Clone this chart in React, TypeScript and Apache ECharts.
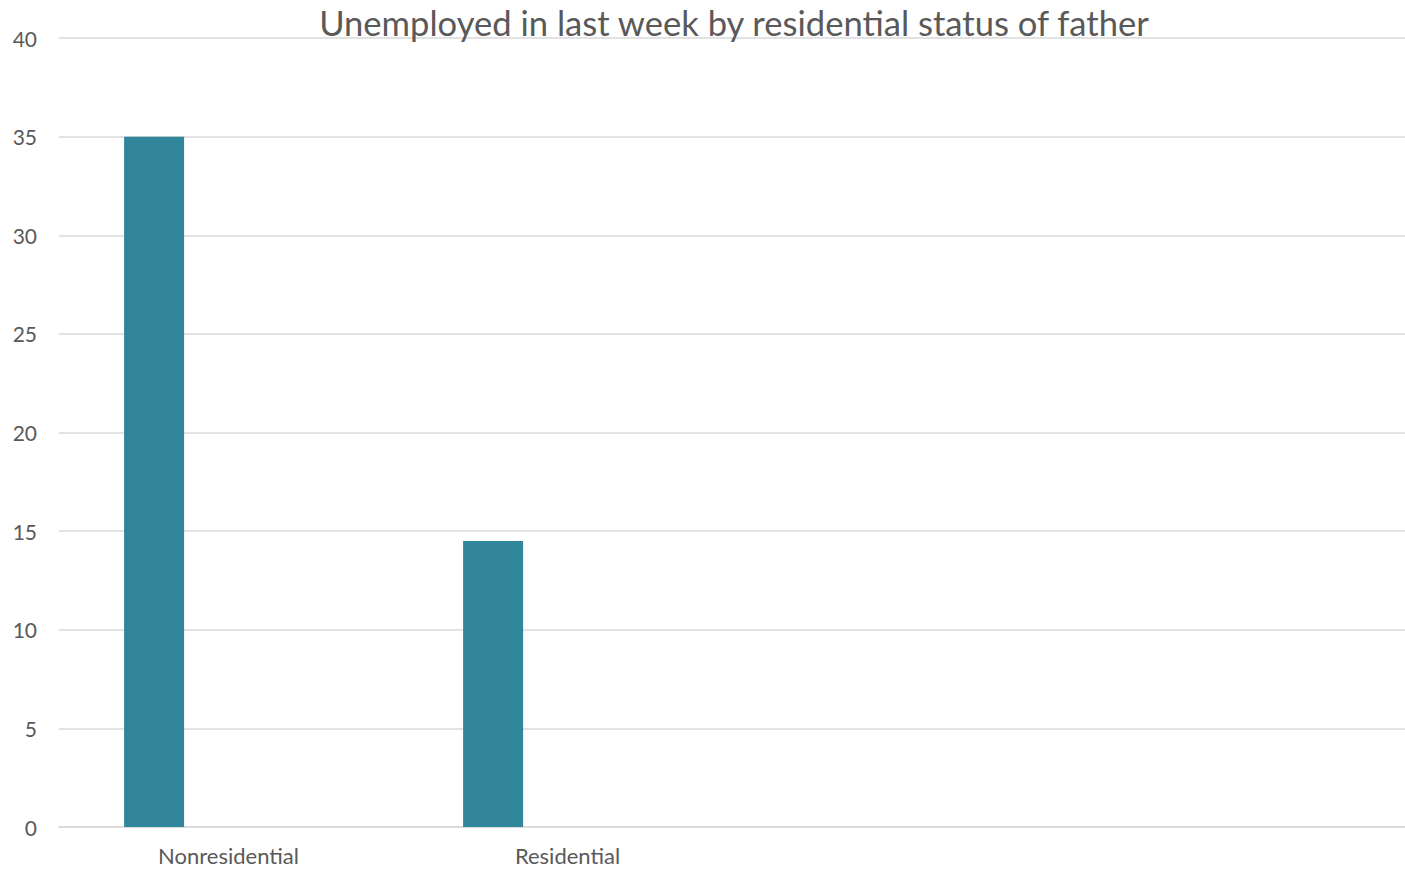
import React, { useEffect, useRef } from "react";
import * as echarts from "echarts";

const TITLE = "Unemployed in last week by residential status of father";
const categories = ["Nonresidential", "Residential", "", ""];
const unemployed = [35, 14.5, null, null];
const spacer = [null, null, null, null];
const yMin = 0;
const yMax = 40;
const yInterval = 5;

const TEXT = "#595959";
const GRID = "#d9d9d9";
const BAR = "#31869b";
const FONT = "Lato, 'Noto Sans', sans-serif";

export default function App() {
  const ref = useRef<HTMLDivElement>(null);
  useEffect(() => {
    if (!ref.current) return;
    const chart = echarts.init(ref.current, undefined, { renderer: "svg" });
    chart.setOption({
      animation: false,
      backgroundColor: "#ffffff",
      title: {
        text: TITLE,
        left: 729,
        top: 0,
        textAlign: "center",
        textStyle: { color: TEXT, fontSize: 34.6, fontWeight: "normal", fontFamily: FONT },
      },
      grid: { left: 59, right: 0, top: 38, bottom: 42, containLabel: false },
      xAxis: {
        type: "category",
        data: categories,
        axisLine: { show: true, lineStyle: { color: GRID, width: 1.5 } },
        axisTick: { show: false },
        axisLabel: { color: TEXT, fontSize: 22, fontFamily: FONT, margin: 17 },
        splitLine: { show: false },
      },
      yAxis: {
        type: "value",
        min: yMin,
        max: yMax,
        interval: yInterval,
        axisLine: { show: false },
        axisTick: { show: false },
        axisLabel: { color: TEXT, fontSize: 21, fontFamily: FONT, margin: 22 },
        splitLine: { show: true, lineStyle: { color: GRID, width: 1.5 } },
      },
      series: [
        {
          type: "bar",
          name: "Unemployed",
          data: unemployed,
          barWidth: 60,
          barGap: "148%",
          itemStyle: { color: BAR },
        },
        {
          type: "bar",
          name: "spacer",
          data: spacer,
          barWidth: 60,
          itemStyle: { color: BAR },
        },
      ],
    });
    return () => chart.dispose();
  }, []);
  return (
    <div
      style={{
        position: "fixed",
        left: 0,
        top: 0,
        width: 1405,
        height: 869,
        overflow: "hidden",
        background: "#fff",
      }}
    >
      <div ref={ref} style={{ width: 1415, height: 869 }} />
    </div>
  );
}
